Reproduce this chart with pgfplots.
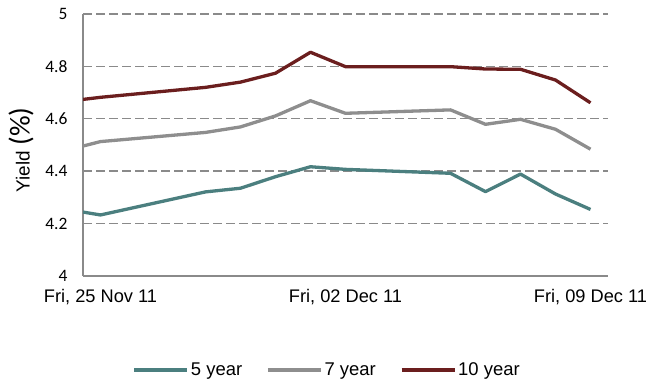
\documentclass[border=0pt]{standalone}
\usepackage{pgfplots}
\pgfplotsset{compat=1.18}
\usepackage{fontspec}
\setmainfont{Liberation Sans}
\newfontfamily\carlito{Carlito}
\definecolor{cfive}{HTML}{4B7F7F}
\definecolor{cseven}{HTML}{8E8E8E}
\definecolor{cten}{HTML}{6B1E1E}
\definecolor{axgray}{HTML}{8A8A8A}
\begin{document}
\begin{tikzpicture}
\useasboundingbox (0,0) rectangle (649bp,380bp);
\begin{axis}[
  at={(83bp,104bp)}, anchor=south west,
  scale only axis, width=525bp, height=262bp,
  xmin=-0.5, xmax=14.5, ymin=4, ymax=5,
  xtick={0,7,14},
  xticklabels={{Fri, 25 Nov 11},{Fri, 02 Dec 11},{Fri, 09 Dec 11}},
  ytick={4,4.2,4.4,4.6,4.8,5},
  major tick length=0pt,
  axis x line=bottom, axis y line=left,
  axis line style={-, draw=axgray, line width=1.4bp},
  ymajorgrids,
  major grid style={draw=axgray, line width=1.4bp, dash pattern=on 8.5bp off 4.5bp},
  /pgf/number format/assume math mode=true,
  yticklabel style={font=\carlito\fontsize{17.5}{17.5}\selectfont, xshift=-12bp},
  xticklabel style={font=\fontsize{18.3}{20}\selectfont, yshift=-10bp},
  ylabel={Yield {\carlito\fontsize{29}{29}\selectfont (\%)}},
  ylabel style={font=\fontsize{19}{20}\selectfont, at={(axis description cs:-0.118,0.481)}, anchor=center},
  legend columns=3,
  legend style={at={(axis description cs:0.465,-0.359)}, anchor=center, draw=none, fill=none,
    font=\fontsize{18.5}{20}\selectfont,
    /tikz/every even column/.append style={column sep=22bp}},
  legend image code/.code={\draw[#1, line width=3.4bp] (0bp,0bp) -- (53bp,0bp);},
  every axis plot/.append style={line width=3.3bp, line join=round},
]
\addplot[cfive] coordinates {(-1,4.255) (0,4.233) (3,4.321) (4,4.335) (5,4.379) (6,4.417) (7,4.407) (10,4.392) (11,4.322) (12,4.389) (13,4.313) (14,4.254)};
\addlegendentry{5 year}
\addplot[cseven] coordinates {(-1,4.479) (0,4.513) (3,4.548) (4,4.569) (5,4.611) (6,4.669) (7,4.621) (10,4.634) (11,4.579) (12,4.598) (13,4.560) (14,4.484)};
\addlegendentry{7 year}
\addplot[cten] coordinates {(-1,4.666) (0,4.682) (3,4.720) (4,4.740) (5,4.774) (6,4.854) (7,4.799) (10,4.799) (11,4.790) (12,4.789) (13,4.748) (14,4.661)};
\addlegendentry{10 year}
\end{axis}
\end{tikzpicture}
\end{document}
